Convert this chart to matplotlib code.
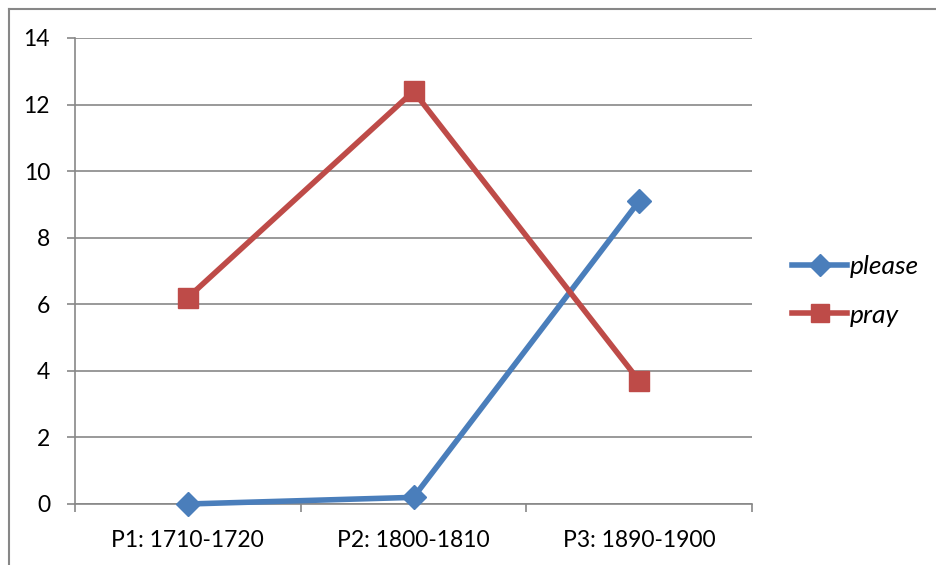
import matplotlib.pyplot as plt
from matplotlib.lines import Line2D

# periods and frequencies
periods = ['P1: 1710-1720', 'P2: 1800-1810', 'P3: 1890-1900']
please = [0.0, 0.2, 9.1]
pray = [6.2, 12.4, 3.7]
yticks = [0, 2, 4, 6, 8, 10, 12, 14]

blue = '#4A7EBB'
red = '#BE4B48'
grid = '#878787'

plt.rcParams['font.family'] = ['Lato', 'DejaVu Sans']

fig = plt.figure(figsize=(9.36, 5.65), dpi=100)
ax = fig.add_axes([75/936, 61/565, 677/936, 466/565])

x = [0.5, 1.5, 2.5]
ax.plot(x, please, color=blue, lw=4, marker='D', ms=12, mec=blue, mfc=blue,
        label='please', zorder=3, solid_joinstyle='round', clip_on=False)
ax.plot(x, pray, color=red, lw=4, marker='s', ms=14, mec=red, mfc=red,
        label='pray', zorder=3, solid_joinstyle='round', clip_on=False)

ax.set_xlim(0, 3)
ax.set_ylim(0, 14)
ax.set_yticks(yticks)
ax.set_xticks([0, 1, 2, 3])
ax.set_xticklabels([])
ax.set_xticks(x, minor=True)
ax.set_xticklabels(periods, minor=True, fontsize=16.5)
ax.tick_params(axis='x', which='minor', length=0, pad=19)
ax.tick_params(axis='x', which='major', length=6, color=grid, width=1.2, direction='out')
ax.tick_params(axis='y', length=6, color=grid, width=1.2, labelsize=16.5, pad=12)

ax.yaxis.grid(True, color=grid, lw=1.2)
ax.set_axisbelow(True)
for s in ['top', 'right']:
    ax.spines[s].set_visible(False)
ax.spines['left'].set_color(grid)
ax.spines['bottom'].set_color(grid)
ax.spines['left'].set_linewidth(1.2)
ax.spines['bottom'].set_linewidth(1.2)

handles = [Line2D([], [], color=blue, lw=4, marker='D', ms=11),
           Line2D([], [], color=red, lw=4, marker='s', ms=13)]
leg = fig.legend(handles, ['please', 'pray'], loc='center left',
                 bbox_to_anchor=(792/936, 1 - 291/565), frameon=False,
                 prop={'style': 'italic', 'size': 19}, handlelength=2.1,
                 handletextpad=0.1, labelspacing=0.95, borderpad=0,
                 borderaxespad=0)

# outer chart border
fig.add_artist(Line2D([9/936, 9/936], [0, 1 - 9/565], color=grid, lw=1.5))
fig.add_artist(Line2D([9/936, 1], [1 - 9/565, 1 - 9/565], color=grid, lw=1.5))

fig.savefig('out.png', dpi=100)
